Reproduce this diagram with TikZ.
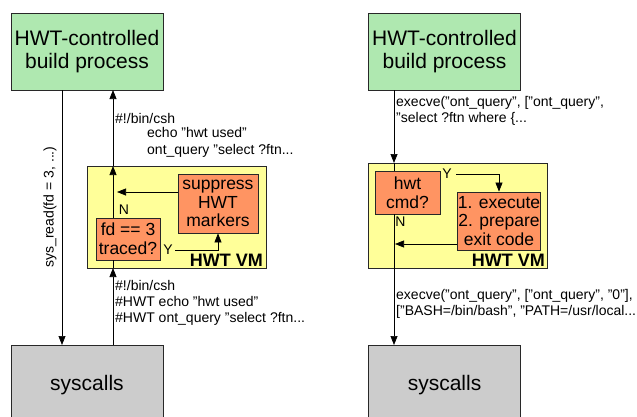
\documentclass[tikz,border=0pt]{standalone}
\usepackage{fontspec}
\setmainfont{Liberation Sans}
\usetikzlibrary{arrows.meta}
\definecolor{procgreen}{RGB}{175,232,176}
\definecolor{vmyellow}{RGB}{255,255,153}
\definecolor{stepor}{RGB}{255,148,98}
\definecolor{sysgray}{RGB}{204,204,204}
\definecolor{edge}{RGB}{40,40,40}
\tikzset{
  box/.style={draw=edge, line width=0.8pt, inner sep=0pt, align=center, text=black},
  procbox/.style={box, fill=procgreen, minimum width=152pt, minimum height=77pt,
    font=\fontsize{21}{23}\selectfont},
  sysbox/.style={box, fill=sysgray, minimum width=152pt, minimum height=80pt,
    font=\fontsize{21}{23}\selectfont},
  vmbox/.style={box, fill=vmyellow},
  stepbox/.style={box, fill=stepor, font=\fontsize{17.5}{18.7}\selectfont},
  vmlabel/.style={inner sep=0pt, font=\bfseries\fontsize{18}{20}\selectfont},
  note/.style={inner sep=0pt, align=left, font=\fontsize{14}{16.3}\selectfont},
  yn/.style={inner sep=0pt, font=\fontsize{14}{16}\selectfont},
  flow/.style={draw=black, line width=0.7pt},
  tip/.style={-{Triangle[length=9pt,width=7pt]}},
}
\begin{document}
\begin{tikzpicture}[x=1pt,y=-1pt]
\clip (0,0) rectangle (637,416);
\fill[white] (0,0) rectangle (637,416);

% ---------- left: shell script passed through the VM ----------
\node[procbox] (g1) at (87,51.5) {HWT-controlled\\build process};
\node[sysbox]  (s1) at (87,385) {syscalls};
\node[vmbox, minimum width=179pt, minimum height=102pt] (v1) at (176.5,217) {};
\node[stepbox, minimum width=80pt, minimum height=59pt] (sup) at (218,203.5) {suppress\\HWT\\markers};
\node[stepbox, minimum width=64pt, minimum height=42pt] (fd) at (128,239) {fd == 3\\traced?};
\node[vmlabel, anchor=base east] (vm1) at (263,266) {HWT VM};

\coordinate (v1b) at (113,268);
\coordinate (v1t) at (113,166);
\coordinate (fdb) at (113,260);
\coordinate (fdt) at (113,218);
\coordinate (g1u) at (113,90);
\coordinate (s1u) at (113,345);
\coordinate (s1d) at (62,345);
\coordinate (g1d) at (62,90);

\draw[flow, tip] (g1d) -- (s1d);
\node[note, rotate=90] (rd) at (50,207) {sys\_read(fd = 3, ...)};

\draw[flow, tip] (s1u) -- (v1b);
\draw[flow] (v1b) -- (fdb);
\draw[flow, tip] (fdt) -- (v1t);
\draw[flow, tip] (v1t) -- (g1u);

\coordinate (supl) at (117,192);
\draw[flow, tip] (sup.west |- supl) -- (supl);
\node[yn] (n1) at (124,210) {N};
\node[yn] (y1) at (168,250) {Y};
\coordinate (ystart) at (175,250);
\coordinate (ybend) at (218,250);
\draw[flow, tip] (ystart) -- (ybend) -- (sup.south -| ybend);

\node[note, anchor=west] (in1) at (115,118) {\#!/bin/csh};
\node[note, anchor=north west] (in2) at (147,127.5) {echo "hwt used"\\ont\_query "select ?ftn...};
\node[note, anchor=north west] (out1) at (115,280) {\#!/bin/csh\\\#HWT echo "hwt used"\\\#HWT ont\_query "select ?ftn...};

% ---------- right: command interception ----------
\node[procbox] (g2) at (444.5,51.5) {HWT-controlled\\build process};
\node[sysbox]  (s2) at (444.5,385) {syscalls};
\node[vmbox, minimum width=179pt, minimum height=105pt] (v2) at (457.5,215.5) {};
\node[stepbox, minimum width=65pt, minimum height=43pt] (hw) at (407.5,192.5) {hwt\\cmd?};
\node[stepbox, minimum width=80pt, minimum height=58pt] (ex) at (499,221) {1. execute\\2. prepare\\exit code};
\node[vmlabel, anchor=base east] (vm2) at (545,266) {HWT VM};

\coordinate (g2d) at (394,90);
\coordinate (v2t) at (394,163);
\coordinate (hwt) at (394,171);
\coordinate (hwb) at (394,214);
\coordinate (s2d) at (394,345);

\draw[flow, tip] (g2d) -- (v2t);
\draw[flow] (v2t) -- (hwt);
\draw[flow, tip] (hwb) -- (s2d);

\node[yn] (y2) at (447,174) {Y};
\node[yn] (n2) at (400.5,222) {N};
\coordinate (y2start) at (456,174);
\coordinate (y2bend) at (499,174);
\draw[flow, tip] (y2start) -- (y2bend) -- (ex.north);
\coordinate (exl) at (395,244);
\draw[flow, tip] (ex.west |- exl) -- (exl);

\node[note, anchor=north west] (call1) at (396,96) {execve("ont\_query", {[}"ont\_query",\\"select ?ftn where \{...};
\node[note, anchor=north west] (call2) at (396,289) {execve("ont\_query", {[}"ont\_query", "0"{]},\\{[}"BASH=/bin/bash", "PATH=/usr/local...};
\end{tikzpicture}
\end{document}
